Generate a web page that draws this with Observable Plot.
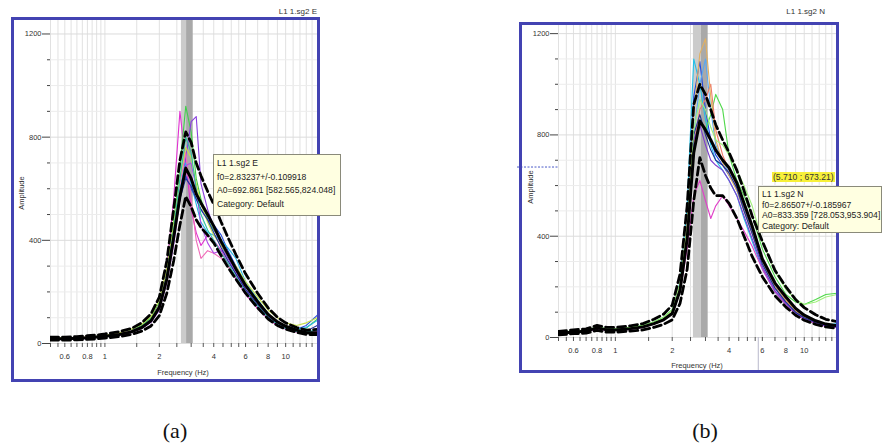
<!DOCTYPE html>
<html><head><meta charset="utf-8">
<script src="https://cdn.jsdelivr.net/npm/d3@7"></script>
<script src="https://cdn.jsdelivr.net/npm/@observablehq/plot@0.6"></script>
<style>
body{margin:0;background:#fff;width:882px;height:446px;overflow:hidden;position:relative;font-family:"Liberation Sans",Arial,sans-serif;}
.abs{position:absolute;}
.frame{position:absolute;border:3px solid #4343b2;box-sizing:border-box;pointer-events:none;}
.ctr{position:absolute;transform:translate(-50%,-50%);white-space:nowrap;}
.small{font-size:7.5px;color:#333;}
.title{position:absolute;font-size:8px;color:#333;white-space:nowrap;}
.tip{position:absolute;background:#ffffe1;border:1px solid #8a8a7a;font-size:8.6px;color:#222;padding:2px 3px;box-sizing:border-box;white-space:nowrap;}
.cap{position:absolute;transform:translate(-50%,-50%);font-family:"Liberation Serif","DejaVu Serif",serif;font-size:22px;color:#111;}
.hl{position:absolute;background:#f7f03a;font-size:8.6px;color:#333;padding:0 1px;white-space:nowrap;transform:translateY(-50%);}
</style>
</head><body>
<div id="pa" class="abs" style="left:0;top:0"></div>
<div id="pb" class="abs" style="left:500px;top:0"></div>
<script>
// ---------- data ----------
const freqs = [0.5,0.6,0.7,0.8,0.9,1.0,1.2,1.4,1.6,1.8,2.0,2.2,2.4,2.6,2.8,3.0,3.2,3.4,3.7,4.0,4.4,4.8,5.3,6.0,7.0,8.0,9.0,10,11.5,13,15];

// panel (a) : L1 1.sg2 E
const aMean  = [18,18,20,22,25,28,35,45,62,88,140,250,410,570,680,640,580,545,500,455,395,345,290,225,162,113,84,67,52,42,42];
const aUpper = [25,25,27,30,33,37,46,58,80,115,180,320,520,710,820,780,700,650,590,540,470,410,345,270,195,138,102,80,62,52,55];
const aLower = [13,13,14,16,18,21,27,35,48,68,108,195,320,460,570,530,480,450,420,390,340,295,250,195,138,95,70,56,43,35,34];
const aWindows = [
  [20,18,22,24,26,30,38,50,68,95,150,290,560,900,700,520,430,380,420,400,360,310,250,190,135,95,70,55,45,40,42],
  [22,20,21,25,28,32,40,52,70,100,160,280,470,680,920,820,640,560,480,440,400,350,290,220,160,110,82,66,55,60,95],
  [16,17,19,20,24,27,33,44,60,84,130,240,400,580,720,860,880,620,520,450,380,330,270,205,150,105,78,62,50,45,50],
  [18,19,20,22,24,28,36,46,64,90,145,260,420,590,650,600,560,520,480,460,420,360,300,230,160,110,80,64,55,70,110],
  [20,21,22,23,25,29,37,48,65,92,140,250,420,600,700,620,540,470,430,420,400,370,330,240,170,115,85,68,56,62,90],
  [24,20,22,25,27,31,39,49,64,90,150,270,440,620,740,560,400,330,360,350,330,300,260,200,145,100,75,60,48,44,46],
  [15,16,18,20,23,26,32,42,58,82,130,235,380,560,690,700,600,460,390,350,360,340,280,210,150,105,76,60,48,42,40],
  [22,22,23,25,28,32,42,55,75,105,170,290,460,640,760,720,620,540,470,420,380,340,300,240,180,130,100,80,70,80,100],
  [17,18,19,21,23,27,34,44,61,86,138,250,400,560,640,610,560,520,480,430,370,320,270,210,150,104,78,62,50,48,70],
  [19,19,20,22,25,29,36,47,64,90,145,265,440,640,800,740,600,500,440,400,350,310,260,200,145,100,74,58,47,44,52]
];
const aColors = ["#e030d0","#3fcf4a","#8a3fe0","#2a4fe0","#27b4e6","#f06ab8","#b04ae8","#c6df4a","#26309a","#2fc2a0"];
const aBandLight = [{lo:2.65, hi:2.83}];
const aBandDark  = [{lo:2.83, hi:3.08}];

// panel (b) : L1 1.sg2 N
const bMean  = [16,22,25,38,30,30,35,42,55,70,95,186,390,730,855,820,780,740,700,670,610,530,440,310,215,160,115,88,66,53,46];
const bUpper = [24,30,34,48,40,40,46,55,72,92,128,250,520,920,1000,960,900,840,780,730,660,580,480,380,265,200,150,118,90,72,62];
const bLower = [10,15,17,28,21,21,25,30,40,52,70,135,270,540,710,640,590,560,560,530,470,400,320,240,165,120,88,68,52,42,36];
const bWindows = [
  [18,24,26,40,32,32,37,45,58,75,105,220,520,1100,1000,860,760,700,660,620,560,470,380,270,180,130,95,75,58,48,55],
  [16,22,25,36,30,29,34,41,54,70,96,200,440,950,1090,900,780,720,680,640,590,510,420,300,200,145,105,82,62,50,42],
  [17,23,26,38,31,31,36,43,56,72,100,205,430,800,1000,1100,900,760,700,650,580,500,410,295,195,140,100,80,60,48,40],
  [20,26,28,42,34,34,40,48,62,80,110,210,420,740,860,820,880,960,900,720,620,560,480,350,240,170,140,130,150,170,175],
  [18,22,25,38,30,30,35,42,55,72,100,200,420,760,900,940,1000,820,720,660,600,520,430,310,210,150,108,85,64,52,46],
  [14,20,22,34,28,28,32,40,52,68,92,180,350,560,620,540,470,520,560,520,470,420,360,270,180,130,92,72,55,44,40],
  [17,23,26,39,31,31,36,44,57,74,102,210,450,880,1120,1180,950,780,690,640,580,500,410,300,200,145,104,82,62,50,45],
  [15,21,24,36,29,29,34,41,53,69,95,190,400,780,840,760,700,680,660,620,560,480,390,280,185,135,98,76,58,46,40],
  [16,22,25,37,30,30,35,42,55,71,98,195,410,800,880,800,740,700,680,650,590,500,410,290,195,140,100,78,60,48,42],
  [19,25,27,41,33,33,38,46,60,78,108,215,440,820,940,900,830,780,760,720,660,600,520,380,260,190,150,130,140,160,170]
];
const bColors = ["#22c0e8","#2048e0","#5aa8f0","#4fd84a","#f07a6a","#e040c8","#e2b060","#7e3ed0","#20308f","#9ff07a"];
const bBandLight = [{lo:2.59, hi:2.85}];
const bBandDark  = [{lo:2.85, hi:3.10}];
const bCursor = {f:5.710, a:673.21};

// axes
const xTickLabels = [0.6,0.8,1,2,4,6,8,10];
const xMinorTicks = [0.5,0.55,0.6,0.65,0.7,0.75,0.8,0.85,0.9,0.95,1,1.5,2,2.5,3,3.5,4,4.5,5,5.5,6,7,8,9,10,11,12,13,14,15];
const yMajor = [0,400,800,1200];
const yMinor = [100,200,300,500,600,700,900,1000,1100];

// ---------- drawing ----------
function panel(o){
  const win = o.windows.flatMap((c,i)=>freqs.map((f,j)=>({f, a:c[j], id:i, col:o.colors[i]})));
  const stat = (arr)=>freqs.map((f,j)=>({f, a:arr[j]}));
  const marks = [
    Plot.ruleX(xMinorTicks, {stroke:"#e1e1e1", strokeWidth:1}),
    Plot.ruleY(yMinor, {stroke:"#ececec", strokeWidth:1}),
    Plot.ruleY(yMajor, {stroke:"#dcdcdc", strokeWidth:1}),
    Plot.rect(o.bandLight, {x1:"lo", x2:"hi", fill:"#cbcbcb"}),
    Plot.rect(o.bandDark, {x1:"lo", x2:"hi", fill:"#a9a9a9"}),
    Plot.line(win, {x:"f", y:"a", z:"id", stroke:"col", strokeWidth:1.1, clip:true}),
    Plot.line(stat(o.upper), {x:"f", y:"a", stroke:"#000", strokeWidth:2.8, strokeDasharray:"8,4", clip:true}),
    Plot.line(stat(o.lower), {x:"f", y:"a", stroke:"#000", strokeWidth:2.8, strokeDasharray:"8,4", clip:true}),
    Plot.line(stat(o.mean), {x:"f", y:"a", stroke:"#000", strokeWidth:3, clip:true}),
    Plot.axisY(yMajor, {tickSize:8, tickPadding:1, fontSize:7.5, label:null, stroke:"#444", fill:"#333", tickFormat:d=>String(d)}),
    Plot.axisY(yMinor, {tickSize:3, tickFormat:()=>"", label:null, stroke:"#444"}),
    Plot.axisX(xMinorTicks, {tickSize:4, tickFormat:()=>"", label:null, stroke:"#555"}),
    Plot.text(xTickLabels, {x:d=>d, y:()=>0, dy:13, text:d=>String(d), fontSize:7.5, fill:"#333", textAnchor:"middle", lineAnchor:"middle"})
  ];
  if (o.cursor) {
    marks.push(Plot.ruleY([o.cursor], {y:"a", x1:()=>0.5, x2:()=>0.5, insetLeft:-41, stroke:"#4a5ac8", strokeDasharray:"2,1.5", strokeWidth:1}));
    marks.push(Plot.ruleX([o.cursor], {x:"f", y1:()=>0, y2:()=>0, insetTop:36, stroke:"#b8b8cc", strokeWidth:1}));
  }
  return Plot.plot({
    width:o.w, height:o.h,
    marginLeft:o.ml, marginRight:o.mr, marginTop:o.mt, marginBottom:o.mb,
    style:{background:"transparent", overflow:"visible", fontFamily:"Liberation Sans, Arial, sans-serif"},
    x:{type:"log", domain:[0.5,15]},
    y:{domain:[0,o.ymax]},
    marks
  });
}

document.getElementById("pa").append(panel({
  w:330, h:390, ml:50, mr:13, mt:18, mb:47, ymax:1260,
  windows:aWindows, colors:aColors, mean:aMean, upper:aUpper, lower:aLower,
  bandLight:aBandLight, bandDark:aBandDark
}));
document.getElementById("pb").append(panel({
  w:350, h:380, ml:58, mr:13, mt:23, mb:43, ymax:1240,
  windows:bWindows, colors:bColors, mean:bMean, upper:bUpper, lower:bLower,
  bandLight:bBandLight, bandDark:bBandDark, cursor:bCursor
}));
</script>

<!-- panel (a) decorations -->
<div class="frame" style="left:11px;top:17px;width:309px;height:365px"></div>
<div class="title" style="right:565px;top:7px">L1 1.sg2 E</div>
<div class="ctr small" style="left:21px;top:193px;transform:translate(-50%,-50%) rotate(-90deg)">Amplitude</div>
<div class="ctr small" style="left:183px;top:372px">Frequency (Hz)</div>
<div class="tip" style="left:213px;top:154px;width:128px;height:62px;line-height:13.5px">L1 1.sg2 E<br>f0=2.83237+/-0.109918<br>A0=692.861 [582.565,824.048]<br>Category: Default</div>
<div class="cap" style="left:175px;top:431px">(a)</div>

<!-- panel (b) decorations -->
<div class="frame" style="left:519px;top:22px;width:320px;height:351px"></div>
<div class="title" style="right:57px;top:7px">L1 1.sg2 N</div>
<div class="ctr small" style="left:530px;top:187px;transform:translate(-50%,-50%) rotate(-90deg)">Amplitude</div>
<div class="ctr small" style="left:697px;top:365px">Frequency (Hz)</div>
<div class="hl" style="left:772px;top:177px">(5.710 ; 673.21)</div>
<div class="tip" style="left:758px;top:186px;width:124px;height:47px;line-height:10.5px">L1 1.sg2 N<br>f0=2.86507+/-0.185967<br>A0=833.359 [728.053,953.904]<br>Category: Default</div>
<div class="cap" style="left:705px;top:431px">(b)</div>
</body></html>
